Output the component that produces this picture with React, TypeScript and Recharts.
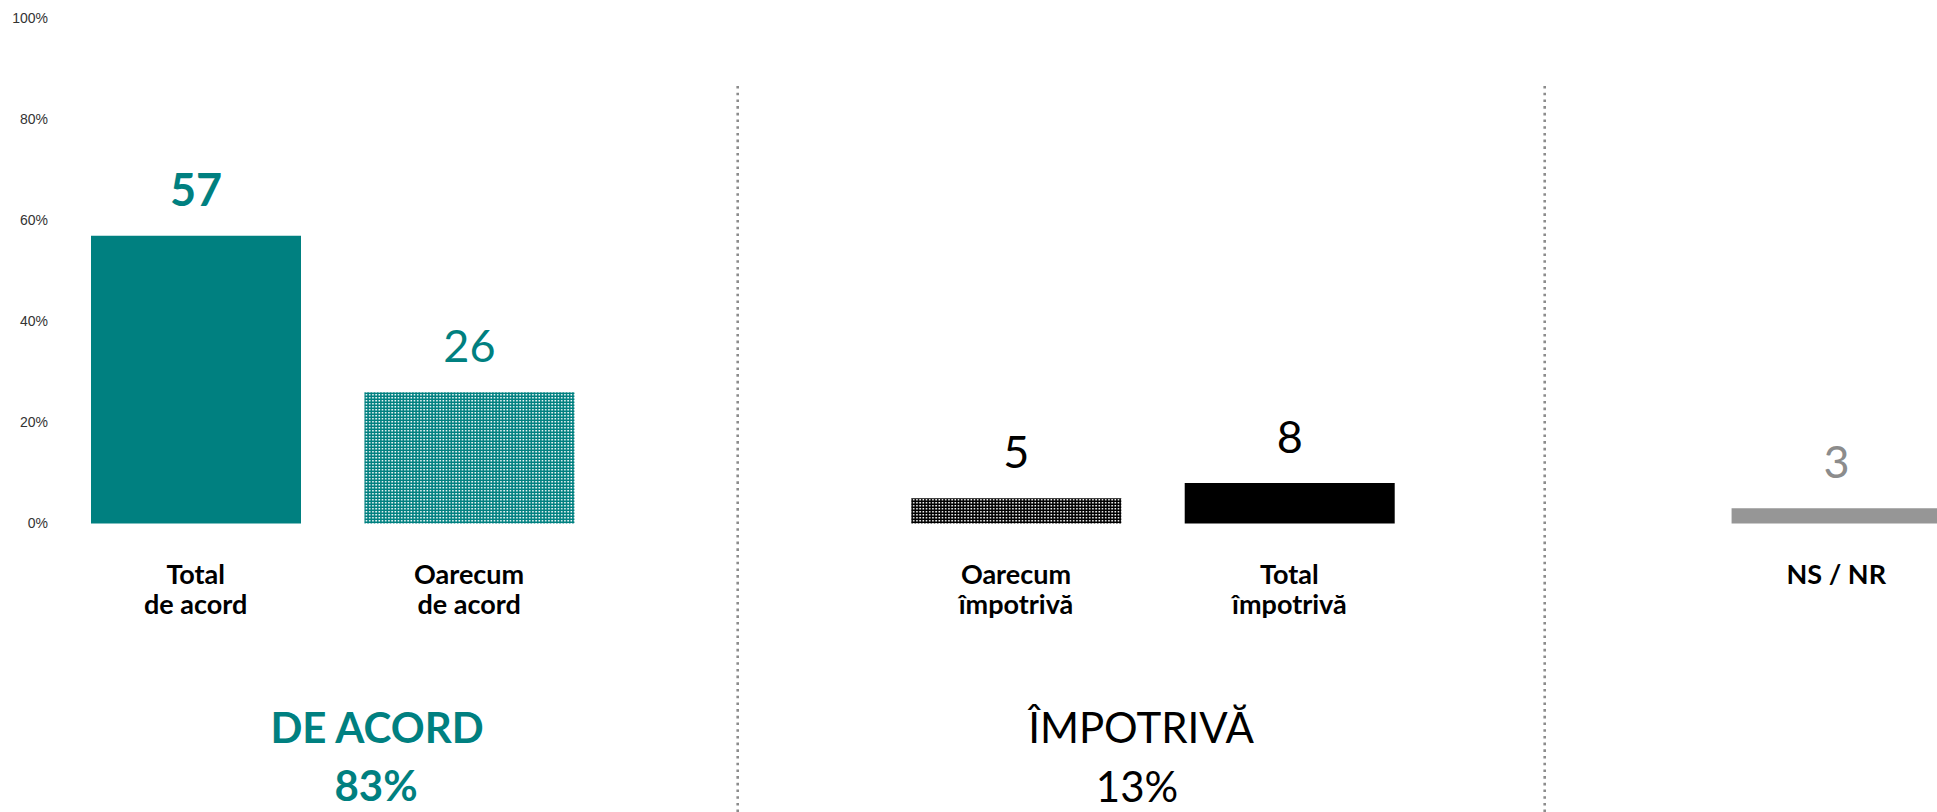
import React from "react";
import { Bar, BarChart, Cell, LabelList, XAxis, YAxis } from "recharts";

// categories incl. the two empty slots that separate the groups
const categories = ["tda", "oda", "gap1", "oi", "ti", "gap2", "nsnr"];
const tickLine1 = ["Total", "Oarecum", "", "Oarecum", "Total", "", "NS / NR"];
const tickLine2 = ["de acord", "de acord", "", "împotrivă", "împotrivă", "", ""];
const values: (number | null)[] = [57, 26, null, 5, 8, null, 3];
const valueLabels = ["57", "26", "", "5", "8", "", "3"];
const yTicks = [0, 20, 40, 60, 80, 100];

const groupTitles = ["DE ACORD", "ÎMPOTRIVĂ"];
const groupTotals = ["83%", "13%"];

const TEAL = "#008080";
const BLACK = "#000000";
const GREY = "#969696";
const FONT = "Lato, 'Open Sans', sans-serif";

const barFills = [TEAL, "url(#dotTeal)", "none", "url(#dotBlack)", BLACK, "none", GREY];
const labelColors = [TEAL, TEAL, BLACK, BLACK, BLACK, BLACK, "#8c8c8c"];
const labelWeights = [700, 400, 400, 400, 400, 400, 400];

const data = categories.map((key, i) => ({
  key,
  value: values[i],
  label: valueLabels[i]
}));

function CategoryTick(props: any) {
  const { x, y, payload } = props;
  const i = categories.indexOf(payload.value);
  if (i < 0 || !tickLine1[i]) return null;
  return (
    <text x={x} textAnchor="middle" fontFamily={FONT} fontWeight={700} fontSize={27} fill={BLACK}>
      <tspan x={x} y={y + 60}>{tickLine1[i]}</tspan>
      {tickLine2[i] ? (
        <tspan x={x} y={y + 90}>{tickLine2[i]}</tspan>
      ) : null}
    </text>
  );
}

function ValueLabel(props: any) {
  const { x, y, width, value } = props;
  const i = valueLabels.indexOf(String(value));
  if (i < 0 || !value) return null;
  return (
    <text
      x={Number(x) + Number(width) / 2}
      y={Number(y) - 30}
      textAnchor="middle"
      fontFamily={FONT}
      fontSize={45}
      fontWeight={labelWeights[i]}
      fill={labelColors[i]}
    >
      {valueLabels[i]}
    </text>
  );
}

export default function App() {
  return (
    <div
      style={{
        position: "fixed",
        left: 0,
        top: 0,
        width: 1937,
        height: 812,
        overflow: "hidden",
        background: "#fff"
      }}
    >
      <BarChart
        width={1973}
        height={812}
        data={data}
        margin={{ top: 18.5, right: 0, left: 0, bottom: 0 }}
      >
        <defs>
          <pattern id="dotTeal" width="3.2" height="3" patternUnits="userSpaceOnUse">
            <rect width="3.2" height="3" fill={TEAL} />
            <rect x="1" y="1" width="1.5" height="1.5" fill="#fff" />
          </pattern>
          <pattern id="dotBlack" width="3.2" height="3" patternUnits="userSpaceOnUse">
            <rect width="3.2" height="3" fill={BLACK} />
            <rect x="1" y="1" width="1.5" height="1.5" fill="#fff" />
          </pattern>
        </defs>
        <XAxis
          dataKey="key"
          height={288.5}
          interval={0}
          axisLine={false}
          tickLine={false}
          tickSize={0}
          tickMargin={0}
          tick={<CategoryTick />}
        />
        <YAxis
          domain={[0, 100]}
          ticks={yTicks}
          width={59}
          axisLine={false}
          tickLine={false}
          tickSize={0}
          tickMargin={11}
          tickFormatter={(v) => `${v}%`}
          tick={{ fontSize: 14, fill: "#333", fontFamily: "'Liberation Sans', Arial, sans-serif" }}
        />
        <Bar dataKey="value" barSize={210} isAnimationActive={false}>
          {data.map((d, i) => (
            <Cell key={d.key} fill={barFills[i]} />
          ))}
          <LabelList dataKey="label" content={<ValueLabel />} />
        </Bar>
      </BarChart>

      {/* group dividers and group totals */}
      <svg
        width={1937}
        height={812}
        style={{ position: "absolute", left: 0, top: 0, pointerEvents: "none" }}
      >
        {[737.7, 1544.7].map((x) => (
          <line
            key={x}
            x1={x}
            x2={x}
            y1={86}
            y2={812}
            stroke="#8c8c8c"
            strokeWidth={2.6}
            strokeDasharray="2.6 4.1"
          />
        ))}
        <text textAnchor="middle" fontFamily={FONT} fontSize={42} fontWeight={700} fill={TEAL}>
          <tspan x={377} y={743}>{groupTitles[0]}</tspan>
          <tspan x={376} y={801}>{groupTotals[0]}</tspan>
        </text>
        <text textAnchor="middle" fontFamily={FONT} fontSize={42} fontWeight={400} fill={BLACK}>
          <tspan x={1141} y={743}>{groupTitles[1]}</tspan>
          <tspan x={1137} y={802}>{groupTotals[1]}</tspan>
        </text>
      </svg>
    </div>
  );
}
